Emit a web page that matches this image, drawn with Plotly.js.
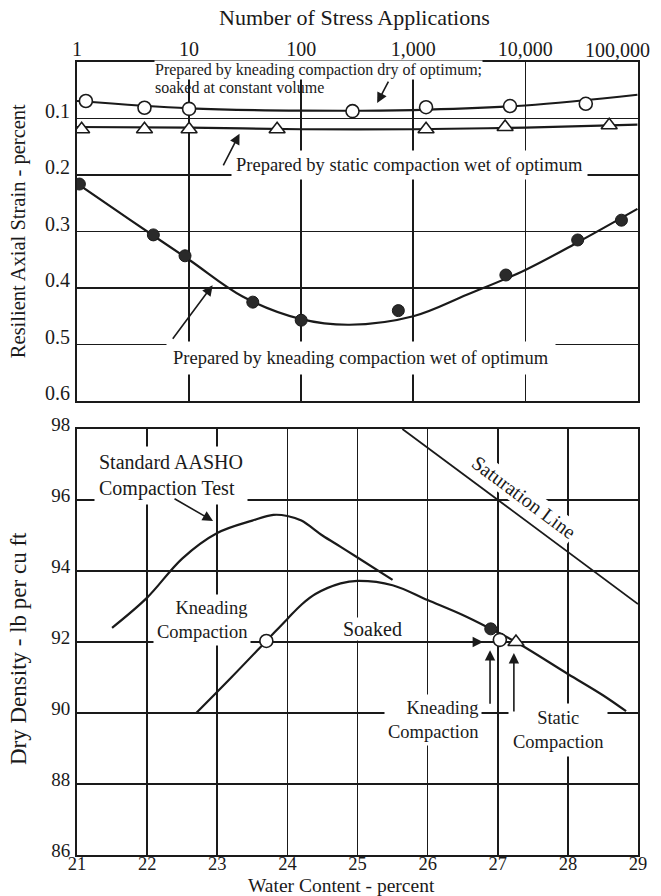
<!DOCTYPE html>
<html>
<head>
<meta charset="utf-8">
<script src="https://cdn.plot.ly/plotly-3.0.1.min.js"></script>
<style>html,body{margin:0;padding:0;background:#fff;}#chart{width:661px;height:896px;}</style>
</head>
<body>
<div id="chart"></div>
<script>
// ---------- Top chart: resilient axial strain vs number of stress applications ----------
const stressTickVals = [1, 10, 100, 1000, 10000];
const stressTickText = ['1', '10', '100', '1,000', '10,000'];
const stressLastTickText = '100,000';
const strainTickVals = [0.1, 0.2, 0.3, 0.4, 0.5, 0.6];
const strainTickText = ['0.1', '0.2', '0.3', '0.4', '0.5', '0.6'];

// kneading dry of optimum, soaked at constant volume (open circles)
const dryPtsN = [1.2, 4.0, 10, 287, 1300, 7300, 34600];
const dryPtsStrain = [0.069, 0.081, 0.083, 0.087, 0.080, 0.078, 0.074];
const dryCurveN = [1, 10, 100, 1000, 10000, 100000];
const dryCurveStrain = [0.069, 0.082, 0.086, 0.085, 0.077, 0.058];

// static compaction wet of optimum (triangles)
const staticPtsN = [1.1, 4.0, 10, 61, 1300, 6600, 56000];
const staticPtsStrain = [0.119, 0.119, 0.119, 0.119, 0.119, 0.115, 0.112];
const staticCurveN = [1, 10, 100, 1000, 10000, 100000];
const staticCurveStrain = [0.115, 0.116, 0.119, 0.119, 0.116, 0.111];

// kneading compaction wet of optimum (filled circles)
const wetPtsN = [1.05, 4.8, 9.2, 37, 100, 736, 6700, 29300, 72000];
const wetPtsStrain = [0.216, 0.306, 0.343, 0.425, 0.457, 0.440, 0.377, 0.315, 0.280];
const wetCurveN = [1, 3, 10, 30, 100, 270, 1000, 3000, 10000, 30000, 100000];
const wetCurveStrain = [0.215, 0.280, 0.350, 0.415, 0.455, 0.465, 0.450, 0.412, 0.368, 0.318, 0.260];

// ---------- Bottom chart: dry density vs water content ----------
const waterTickVals = [21, 22, 23, 24, 25, 26, 27, 28, 29];
const densityTickVals = [86, 88, 90, 92, 94, 96, 98];

const aashoWater = [21.5, 22, 22.5, 23, 23.5, 23.8, 24, 24.2, 24.5, 24.76, 25, 25.5];
const aashoDensity = [92.4, 93.25, 94.35, 95.07, 95.42, 95.58, 95.55, 95.42, 95.0, 94.68, 94.38, 93.75];

const soakedWater = [22.7, 23.2, 23.7, 24.0, 24.2, 24.4, 24.76, 25.0, 25.5, 26, 26.5, 26.9, 27.26, 28, 28.5, 28.83];
const soakedDensity = [90.0, 91.0, 92.03, 92.65, 93.05, 93.35, 93.65, 93.72, 93.6, 93.18, 92.76, 92.37, 92.0, 91.1, 90.5, 90.05];

const saturationWater = [25.64, 29];
const saturationDensity = [98, 93.07];

const kneadOpenWater = [23.7, 27.03];
const kneadOpenDensity = [92.03, 92.06];
const kneadFilledWater = [26.9];
const kneadFilledDensity = [92.37];
const staticWater = [27.26];
const staticDensity = [92.0];

const INK = '#1a1a1a';
const FONT = 'Liberation Serif, Times New Roman, serif';

const traces = [
  {x: dryCurveN, y: dryCurveStrain, xaxis: 'x', yaxis: 'y', mode: 'lines', line: {color: INK, width: 2.2, shape: 'spline'}},
  {x: staticCurveN, y: staticCurveStrain, xaxis: 'x', yaxis: 'y', mode: 'lines', line: {color: INK, width: 2.2, shape: 'spline'}},
  {x: wetCurveN, y: wetCurveStrain, xaxis: 'x', yaxis: 'y', mode: 'lines', line: {color: INK, width: 2.2, shape: 'spline'}},
  {x: dryPtsN, y: dryPtsStrain, xaxis: 'x', yaxis: 'y', mode: 'markers', marker: {symbol: 'circle', size: 13, color: '#fff', line: {color: INK, width: 1.6}}},
  {x: staticPtsN, y: staticPtsStrain, xaxis: 'x', yaxis: 'y', mode: 'markers', marker: {symbol: 'triangle-up', size: 14, color: '#fff', line: {color: INK, width: 1.6}}},
  {x: wetPtsN, y: wetPtsStrain, xaxis: 'x', yaxis: 'y', mode: 'markers', marker: {symbol: 'circle', size: 12, color: '#2a2a2a', line: {color: INK, width: 1}}},

  {x: aashoWater, y: aashoDensity, xaxis: 'x2', yaxis: 'y2', mode: 'lines', line: {color: INK, width: 2.2, shape: 'spline'}},
  {x: soakedWater, y: soakedDensity, xaxis: 'x2', yaxis: 'y2', mode: 'lines', line: {color: INK, width: 2.2, shape: 'spline'}},
  {x: saturationWater, y: saturationDensity, xaxis: 'x2', yaxis: 'y2', mode: 'lines', line: {color: INK, width: 1.8}},
  {x: kneadFilledWater, y: kneadFilledDensity, xaxis: 'x2', yaxis: 'y2', mode: 'markers', marker: {symbol: 'circle', size: 12, color: '#2a2a2a', line: {color: INK, width: 1}}},
  {x: kneadOpenWater, y: kneadOpenDensity, xaxis: 'x2', yaxis: 'y2', mode: 'markers', marker: {symbol: 'circle', size: 13, color: '#fff', line: {color: INK, width: 1.6}}},
  {x: staticWater, y: staticDensity, xaxis: 'x2', yaxis: 'y2', mode: 'markers', marker: {symbol: 'triangle-up', size: 14, color: '#fff', line: {color: INK, width: 1.6}}}
];

const txt = (text, x, y, xref, yref, size, opts) => Object.assign({
  text: text, x: x, y: y, xref: xref, yref: yref, showarrow: false,
  xanchor: 'center', yanchor: 'middle',
  font: {family: FONT, size: size, color: INK}, bgcolor: '#fff', borderpad: 2
}, opts || {});
const arrow = (x, y, ax, ay, xref, yref) => ({
  text: '', x: x, y: y, ax: ax, ay: ay, xref: xref, yref: yref, showarrow: true,
  arrowhead: 2, arrowsize: 1.3, arrowwidth: 1.6, arrowcolor: INK, standoff: 0
});
const NOBG = {bgcolor: 'rgba(0,0,0,0)'};

const annotations = [
  // titles
  txt('Number of Stress Applications', 0.4955, 1.0555, 'paper', 'paper', 22, NOBG),
  txt('Resilient Axial Strain - percent', -0.103, 0.787, 'paper', 'paper', 20.5, Object.assign({textangle: -90}, NOBG)),
  txt('Dry Density - lb per cu ft', -0.103, 0.26, 'paper', 'paper', 23, Object.assign({textangle: -90}, NOBG)),
  txt('Water Content - percent', 0.472, -0.0387, 'paper', 'paper', 19.5, NOBG),
  // last top tick label, pulled inside the frame as in the original
  txt(stressLastTickText, 0.9626, 1.0151, 'paper', 'paper', 20, NOBG),

  // top chart labels
  txt('Prepared by kneading compaction dry of optimum;', 0.685, 0.0142, 'x', 'y', 16, {xanchor: 'left', borderpad: 0}),
  txt('soaked at constant volume', 0.685, 0.0445, 'x', 'y', 16, Object.assign({xanchor: 'left', borderpad: 0}, NOBG)),
  arrow(2.678, 0.0726, 12, -23, 'x', 'y'),
  txt('Prepared by static compaction wet of optimum', 1.37, 0.182, 'x', 'y', 18.5, {xanchor: 'left', borderpad: 4}),
  arrow(1.45, 0.127, -17, 33, 'x', 'y'),
  txt('Prepared by kneading compaction wet of optimum', 0.79, 0.524, 'x', 'y', 18.5, {xanchor: 'left', borderpad: 6}),
  arrow(1.21, 0.395, -41, 55, 'x', 'y'),

  // bottom chart labels
  txt('Standard AASHO<br>Compaction Test', 21.24, 96.68, 'x2', 'y2', 20, {xanchor: 'left', align: 'left', borderpad: 4}),
  arrow(22.94, 95.41, -40, -23, 'x2', 'y2'),
  txt('Kneading<br>Compaction', 23.48, 92.62, 'x2', 'y2', 18.5, {xanchor: 'right', align: 'right', borderpad: 3}),
  txt('Soaked', 25.21, 92.37, 'x2', 'y2', 20, {borderpad: 0}),
  txt('Saturation Line', 27.37, 96.08, 'x2', 'y2', 20, {textangle: 36.7, borderpad: 0}),
  txt('Kneading<br>Compaction', 26.78, 89.8, 'x2', 'y2', 18.5, {xanchor: 'right', align: 'right', borderpad: 3}),
  txt('Static<br>Compaction', 27.86, 89.52, 'x2', 'y2', 18.5, {align: 'center', borderpad: 4}),
  arrow(26.89, 91.77, 0, 55, 'x2', 'y2'),
  arrow(27.23, 91.69, 0, 60, 'x2', 'y2'),
  arrow(26.79, 92.0, -18, 0, 'x2', 'y2')
];

const axisCommon = {
  showline: true, mirror: true, linecolor: INK, linewidth: 2,
  showgrid: true, gridcolor: INK, gridwidth: 1.6, zeroline: false,
  ticks: '', tickfont: {family: FONT, size: 19, color: INK}, fixedrange: true
};

const layout = {
  width: 661, height: 896,
  margin: {l: 77, r: 23, t: 62, b: 41},
  paper_bgcolor: '#fff', plot_bgcolor: '#fff',
  showlegend: false,
  font: {family: FONT, color: INK},
  xaxis: Object.assign({}, axisCommon, {
    type: 'log', range: [0, 5.005], side: 'top', anchor: 'y',
    tickvals: stressTickVals, ticktext: stressTickText, ticklabelstandoff: -4,
    tickfont: {family: FONT, size: 20, color: INK}
  }),
  yaxis: Object.assign({}, axisCommon, {
    domain: [0.5725, 1], range: [0.6, 0], anchor: 'x',
    tickvals: strainTickVals, ticktext: strainTickText, ticklabelshift: 8, ticklabelstandoff: 1,
    tickfont: {family: FONT, size: 20, color: INK}
  }),
  xaxis2: Object.assign({}, axisCommon, {
    range: [21, 29], anchor: 'y2', tickvals: waterTickVals, ticklabelstandoff: -9,
    tickfont: {family: FONT, size: 18.5, color: INK}
  }),
  yaxis2: Object.assign({}, axisCommon, {
    domain: [0, 0.5372], range: [86, 98], anchor: 'x2',
    tickvals: densityTickVals, ticklabelshift: -5, ticklabelstandoff: 1
  }),
  annotations: annotations
};

Plotly.newPlot('chart', traces, layout, {staticPlot: true, displayModeBar: false});
</script>
</body>
</html>
